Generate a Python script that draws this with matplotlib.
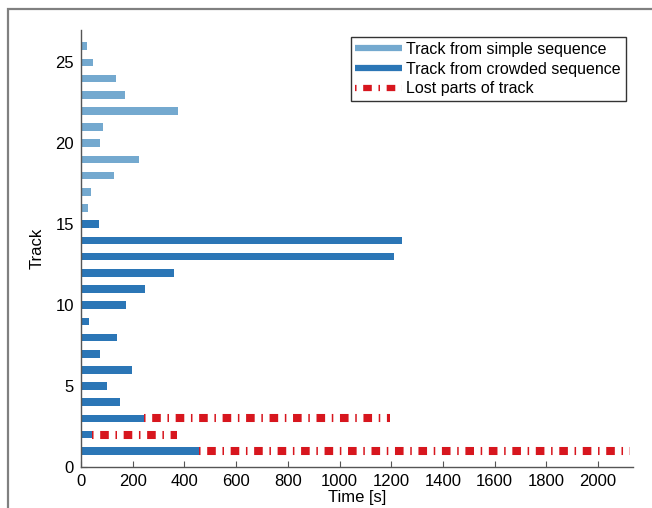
import matplotlib
matplotlib.use("Agg")
from matplotlib import pyplot as plt
from matplotlib.lines import Line2D
from matplotlib.patches import Rectangle
import numpy as np

plt.rcParams['font.family'] = ['Liberation Sans', 'DejaVu Sans']
plt.rcParams['lines.scale_dashes'] = False

# tracked duration per track [s], track 1 at the bottom
tracks = np.arange(1, 27)
durations = [455, 41, 244, 151, 99, 197, 74, 139, 31, 174, 249, 360, 1211, 1240, 71,
             27, 37, 129, 226, 75, 86, 375, 170, 137, 46, 25]
crowded = [True] * 15 + [False] * 11
# where the lost part of a track ends [s]
lost_tracks = [1, 2, 3]
lost_end = [2124, 373, 1195]

light_blue = '#74a9cf'
dark_blue = '#2b76b6'
red = '#d7161e'
lost_dash = (0, (1.1, 4.8, 6.2, 4.8))

fig = plt.figure(figsize=(6.52, 5.08), dpi=100)
ax = fig.add_axes([0.1242, 0.0807, 0.8468, 0.8603])

colors = [dark_blue if c else light_blue for c in crowded]
ax.barh(tracks, durations, height=0.47, color=colors, zorder=2)

for t, end in zip(lost_tracks, lost_end):
    start = durations[t - 1]
    ax.plot([start, end], [t, t], color=red, linewidth=5.8,
            linestyle=lost_dash, solid_capstyle='butt', dash_capstyle='butt', zorder=3)

ax.set_xlim(0, 2135)
ax.set_ylim(0, 27)
ax.set_xticks(np.arange(0, 2001, 200))
ax.set_yticks(np.arange(0, 26, 5))
ax.tick_params(direction='in', length=4, labelsize=12, color='#555555', pad=5)
ax.spines['top'].set_visible(False)
ax.spines['right'].set_visible(False)
for s in ('left', 'bottom'):
    ax.spines[s].set_color('#555555')
    ax.spines[s].set_linewidth(1.0)

ax.set_xlabel('Time [s]', fontsize=12, labelpad=1)
ax.set_ylabel('Track', fontsize=12, labelpad=8)

handles = [
    Line2D([], [], color=light_blue, linewidth=4.5, solid_capstyle='butt'),
    Line2D([], [], color=dark_blue, linewidth=4.5, solid_capstyle='butt'),
    Line2D([], [], color=red, linewidth=4.5, linestyle=lost_dash, dash_capstyle='butt'),
]
labels = ['Track from simple sequence', 'Track from crowded sequence', 'Lost parts of track']
leg = ax.legend(handles, labels, loc='upper right', bbox_to_anchor=(0.987, 0.984),
                fontsize=11.5, frameon=True, fancybox=False, handlelength=2.9,
                handletextpad=0.3, labelspacing=0.3, borderpad=0.3, borderaxespad=0)
leg.get_frame().set_edgecolor('black')
leg.get_frame().set_linewidth(1.0)

# grey frame around the figure
fig.patches.append(Rectangle((7.5 / 652, -0.1), 1.2, (508 - 9.5) / 508 + 0.1,
                             transform=fig.transFigure, fill=False,
                             edgecolor='#808080', linewidth=1.6))

fig.savefig('out.png', dpi=100)
